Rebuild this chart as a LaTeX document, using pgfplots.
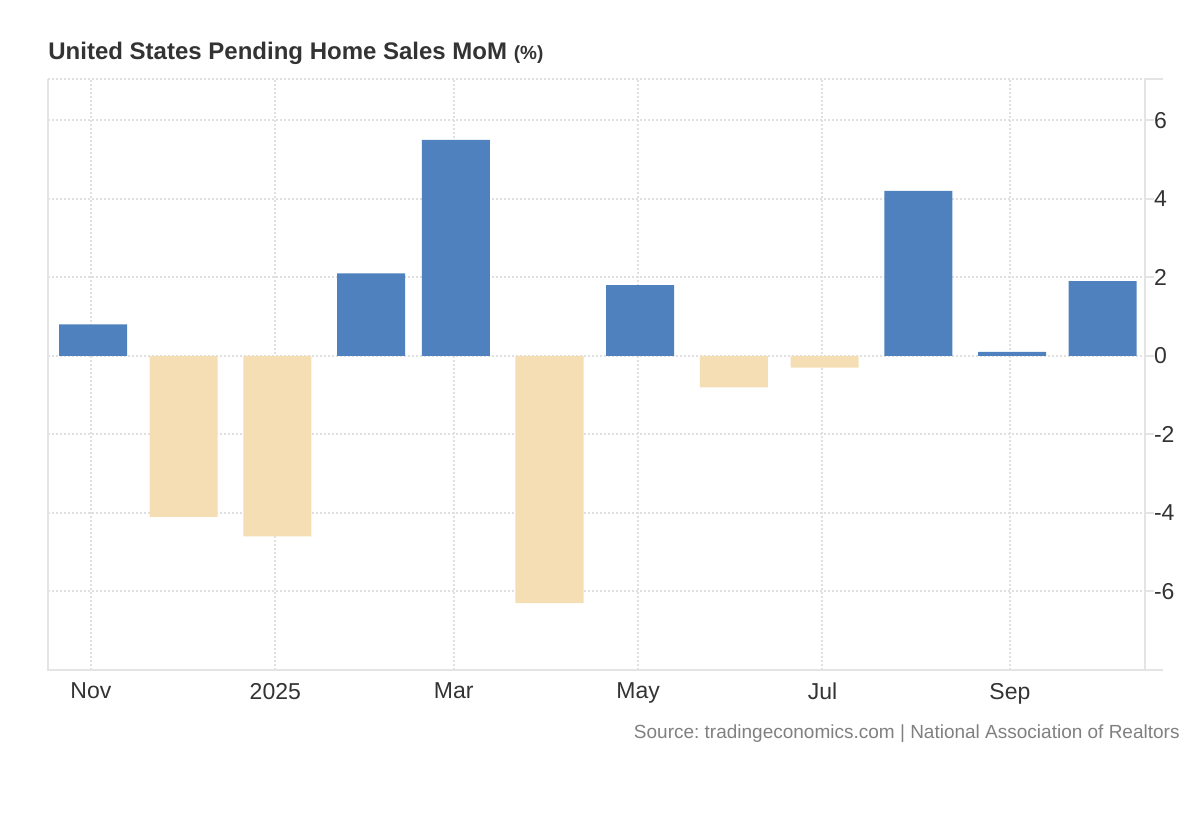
\documentclass[border=0pt]{standalone}
\usepackage{pgfplots}
\pgfplotsset{compat=1.18}
\usepackage{fontspec}
\setmainfont{Liberation Sans}
\frenchspacing
\definecolor{barblue}{RGB}{78,129,189}
\definecolor{bartan}{RGB}{245,222,179}
\definecolor{gridgray}{RGB}{224,224,224}
\definecolor{axisgray}{RGB}{228,228,228}
\definecolor{labelgray}{RGB}{51,51,51}
\definecolor{srcgray}{RGB}{128,128,128}

\begin{document}
\begin{tikzpicture}[x=1pt,y=1pt]
\useasboundingbox (0,0) rectangle (600,410);
\begin{axis}[
    at={(24pt,75pt)}, anchor=south west,
    scale only axis,
    width=548.5pt, height=295.5pt,
    xmin=-14.2, xmax=348.7,
    ymin=-8, ymax=7.05,
    axis line style={draw=none},
    xtick={0,61,120,181,242,304},
    xticklabels={Nov,2025,Mar,May,Jul,Sep},
    ytick={-6,-4,-2,0,2,4,6},
    yticklabels={-6,-4,-2,0,2,4,6},
    ytick pos=right,
    yticklabel pos=right,
    tick align=outside,
    major tick length=4.5pt,
    x tick style={draw=none},
    y tick style={axisgray, line width=1pt},
    grid=major,
    major grid style={gridgray, line width=1pt, dash pattern=on 1pt off 1pt},
    ticklabel style={font=\fontsize{11.5}{13}\selectfont, text=labelgray},
    yticklabel style={anchor=west, xshift=-3.5pt},
    xticklabel style={anchor=north, yshift=1.5pt},
    clip=false,
]
\addplot[ybar, bar width=22.5, bar shift=0pt, fill=barblue, draw=none]
    coordinates {(0.7,0.8)(92.7,2.1)(120.7,5.5)(181.7,1.8)(273.7,4.2)(304.7,0.1)(334.7,1.9)};
\addplot[ybar, bar width=22.5, bar shift=0pt, fill=bartan, draw=none]
    coordinates {(30.7,-4.1)(61.7,-4.6)(151.7,-6.3)(212.7,-0.8)(242.7,-0.3)};
% frame: solid left, bottom and right, dotted top
\draw[gridgray, line width=1pt, dash pattern=on 1pt off 1pt]
    (rel axis cs:0,1) -- (rel axis cs:1,1);
\draw[axisgray, line width=1pt]
    (rel axis cs:0,1) -- (rel axis cs:0,0) -- (rel axis cs:1,0) -- (rel axis cs:1,1);
\draw[axisgray, line width=1pt] (rel axis cs:1,0) -- ([xshift=9pt]rel axis cs:1,0);
\draw[axisgray, line width=1pt] (rel axis cs:1,1) -- ([xshift=9pt]rel axis cs:1,1);
\end{axis}
\node[anchor=base west, inner sep=0pt, text=labelgray] at (24,380)
    {\fontsize{12}{14}\selectfont\bfseries United States Pending Home Sales MoM
     {\fontsize{9.5}{10}\selectfont(\%)}};
\node[anchor=base east, inner sep=0pt, text=srcgray] at (590,41)
    {\fontsize{9.5}{11}\selectfont Source: tradingeconomics.com | National Association of Realtors};
\end{tikzpicture}
\end{document}
